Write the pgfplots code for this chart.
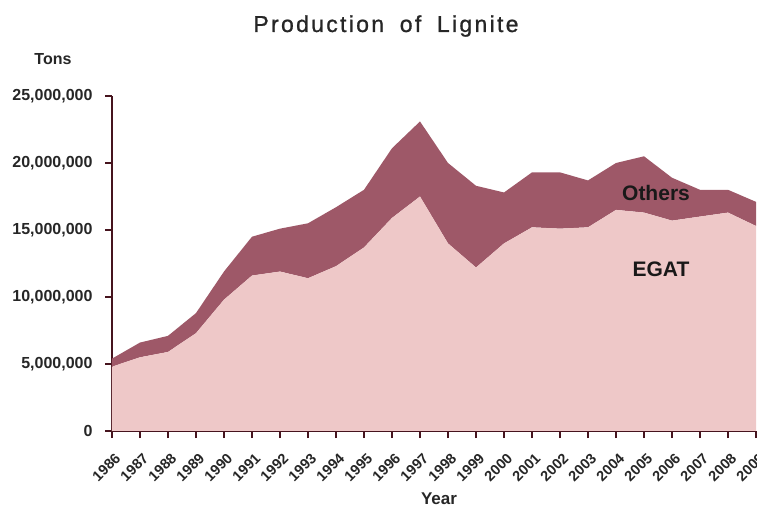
\documentclass[border=0pt]{standalone}
\usepackage{pgfplots}
\pgfplotsset{compat=1.18}
\usepackage{pgfplotstable}
\usepackage{fontspec}
\setmainfont{Liberation Sans}
\definecolor{others}{RGB}{158,88,104}
\definecolor{egat}{RGB}{238,200,200}
\definecolor{axc}{RGB}{70,20,30}
\pgfplotstableread{
year egat others
1986 4800000 600000
1987 5500000 1100000
1988 5900000 1200000
1989 7300000 1500000
1990 9800000 2100000
1991 11600000 2900000
1992 11900000 3200000
1993 11400000 4100000
1994 12300000 4400000
1995 13700000 4300000
1996 15900000 5200000
1997 17500000 5600000
1998 14000000 6000000
1999 12200000 6100000
2000 14000000 3800000
2001 15200000 4100000
2002 15100000 4200000
2003 15200000 3500000
2004 16500000 3500000
2005 16300000 4200000
2006 15700000 3200000
2007 16000000 2000000
2008 16300000 1700000
2009 15300000 1800000
}\data
\begin{document}
\begin{tikzpicture}
\begin{axis}[
  at={(0,0)}, anchor=south west,
  scale only axis, width=644pt, height=335pt,
  xmin=1986, xmax=2009, ymin=0, ymax=25000000,
  axis lines*=left,
  axis line style={axc, line width=1.6pt, -},
  xtick={1986,...,2009},
  ytick={0,5000000,10000000,15000000,20000000,25000000},
  tick align=outside, major tick length=7pt,
  tick style={axc, line width=1.6pt},
  scaled y ticks=false,
  /pgf/number format/assume math mode=true,
  x tick label style={/pgf/number format/1000 sep={}, font=\bfseries\fontsize{14.5}{14.5}\selectfont, rotate=45, anchor=north east, xshift=-5pt, yshift=-8pt, text=black!85},
  y tick label style={/pgf/number format/.cd, fixed, 1000 sep={,}, /tikz/.cd, font=\bfseries\fontsize{16}{16}\selectfont, xshift=-9pt, text=black!85},
  stack plots=y,
  clip=false,
  name=ax,
]
\addplot[fill=egat, draw=none] table[x=year,y=egat]{\data} \closedcycle;
\addplot[fill=others, draw=none] table[x=year,y=others]{\data} \closedcycle;
\end{axis}
\node[anchor=base, font=\bfseries\fontsize{21}{21}\selectfont, text=black!90] at (544pt,230pt) {Others};
\node[anchor=base, font=\bfseries\fontsize{21}{21}\selectfont, text=black!90] at (549pt,154pt) {EGAT};
\pgfresetboundingbox
\useasboundingbox (-112pt,-77pt) rectangle (645pt,431pt);
\node[anchor=base, font=\fontsize{23}{23}\selectfont\addfontfeatures{LetterSpace=10,FakeBold=1}, text=black!85] at (274pt,399pt) {Production\hspace{7pt} of\hspace{7pt} Lignite};
\node[anchor=base, font=\bfseries\fontsize{16}{16}\selectfont, text=black!85] at (-59pt,366pt) {Tons};
\node[anchor=base, font=\bfseries\fontsize{17}{17}\selectfont, text=black!85] at (327pt,-74pt) {Year};
\end{tikzpicture}
\end{document}
